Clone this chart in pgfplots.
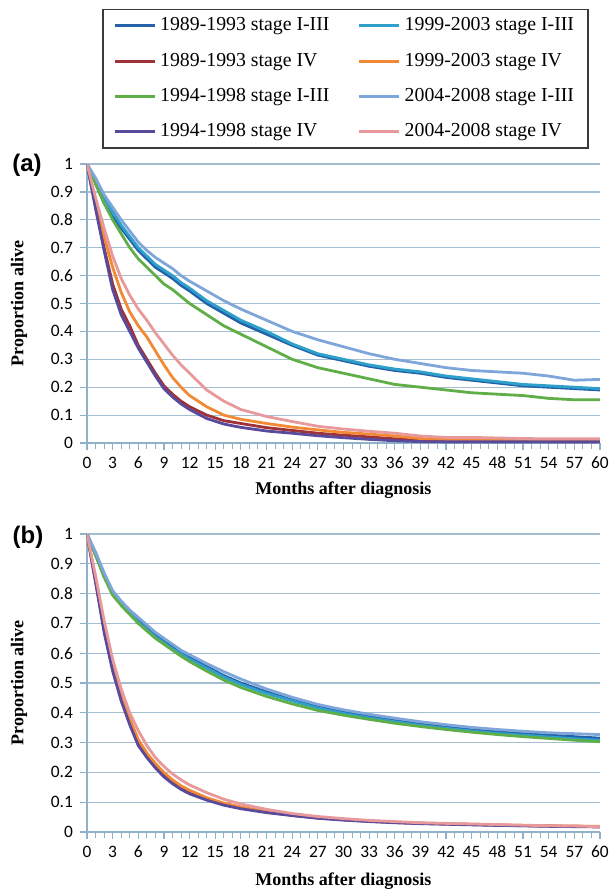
\documentclass[border=0pt]{standalone}
\usepackage{fontspec}
\setmainfont{Liberation Serif}
\newfontfamily\calfont{Carlito}
\newfontfamily\arialfont{Liberation Sans}
\usepackage{pgfplots}
\usepackage{pgfplotstable}
\pgfplotsset{compat=1.18}
\definecolor{cA}{HTML}{2361A9}
\definecolor{cB}{HTML}{9E3237}
\definecolor{cC}{HTML}{5FAE48}
\definecolor{cD}{HTML}{5A4A9C}
\definecolor{cE}{HTML}{2F9FCB}
\definecolor{cF}{HTML}{F28A35}
\definecolor{cG}{HTML}{7EA6DA}
\definecolor{cH}{HTML}{E8999B}
\definecolor{gridc}{HTML}{A3BED0}
\definecolor{axisc}{HTML}{8FB2C8}
\definecolor{legc}{HTML}{3A3A3A}

% columns: a=1989-93 I-III, b=1989-93 IV, c=1994-98 I-III, d=1994-98 IV,
%          e=1999-03 I-III, f=1999-03 IV, g=2004-08 I-III, h=2004-08 IV
\pgfplotstableread{
m  a     b     c     d     e     f     g     h
0  1     1     1     1     1     1     1     1
1  0.93  0.85  0.93  0.84  0.94  0.87  0.95  0.88
2  0.86  0.70  0.86  0.69  0.88  0.74  0.89  0.77
3  0.81  0.57  0.80  0.55  0.83  0.63  0.845 0.67
4  0.77  0.48  0.75  0.46  0.78  0.54  0.80  0.59
5  0.73  0.42  0.70  0.40  0.74  0.47  0.76  0.53
6  0.69  0.35  0.66  0.34  0.70  0.42  0.72  0.48
7  0.66  0.30  0.63  0.29  0.67  0.38  0.69  0.44
8  0.63  0.25  0.60  0.24  0.64  0.33  0.665 0.395
9  0.61  0.205 0.57  0.195 0.62  0.28  0.645 0.355
10 0.59  0.175 0.55  0.165 0.60  0.235 0.625 0.315
11 0.565 0.15  0.525 0.14  0.575 0.20  0.60  0.28
12 0.545 0.13  0.50  0.12  0.555 0.17  0.58  0.25
14 0.50  0.10  0.46  0.088 0.51  0.13  0.545 0.19
16 0.465 0.08  0.42  0.068 0.475 0.10  0.51  0.15
18 0.43  0.07  0.39  0.056 0.44  0.085 0.48  0.12
21 0.39  0.055 0.345 0.043 0.40  0.07  0.44  0.095
24 0.35  0.045 0.30  0.035 0.355 0.057 0.40  0.077
27 0.315 0.035 0.27  0.026 0.32  0.047 0.37  0.06
30 0.295 0.028 0.25  0.019 0.30  0.038 0.345 0.05
33 0.275 0.022 0.23  0.013 0.28  0.032 0.32  0.042
36 0.26  0.015 0.21  0.008 0.265 0.025 0.30  0.035
39 0.25  0.01  0.20  0.005 0.255 0.016 0.285 0.025
42 0.235 0.008 0.19  0.004 0.24  0.013 0.27  0.02
45 0.225 0.007 0.18  0.004 0.23  0.012 0.26  0.02
48 0.215 0.006 0.175 0.004 0.22  0.011 0.255 0.018
51 0.205 0.006 0.17  0.004 0.21  0.01  0.25  0.016
54 0.20  0.005 0.16  0.004 0.205 0.01  0.24  0.015
57 0.195 0.005 0.155 0.004 0.20  0.01  0.225 0.015
60 0.19  0.005 0.155 0.004 0.195 0.01  0.228 0.015
}\panela

\pgfplotstableread{
m  a     b     c     d     e     f     g     h
0  1     1     1     1     1     1     1     1
1  0.93  0.84  0.93  0.84  0.93  0.85  0.94  0.86
2  0.86  0.68  0.855 0.67  0.86  0.69  0.87  0.71
3  0.80  0.55  0.795 0.54  0.80  0.56  0.81  0.58
4  0.765 0.45  0.76  0.44  0.765 0.46  0.775 0.48
5  0.735 0.37  0.73  0.36  0.735 0.38  0.745 0.40
6  0.71  0.30  0.70  0.29  0.705 0.31  0.72  0.34
7  0.685 0.26  0.675 0.25  0.68  0.265 0.695 0.29
8  0.66  0.225 0.65  0.215 0.655 0.23  0.67  0.25
9  0.64  0.195 0.63  0.185 0.635 0.20  0.65  0.22
10 0.62  0.17  0.61  0.162 0.615 0.175 0.63  0.195
11 0.60  0.15  0.59  0.143 0.598 0.155 0.61  0.175
12 0.585 0.135 0.572 0.128 0.58  0.14  0.595 0.158
14 0.555 0.112 0.54  0.107 0.55  0.115 0.565 0.132
16 0.525 0.094 0.51  0.09  0.52  0.097 0.538 0.11
18 0.50  0.081 0.485 0.078 0.495 0.084 0.513 0.094
21 0.47  0.067 0.455 0.065 0.465 0.069 0.48  0.076
24 0.443 0.056 0.43  0.055 0.44  0.058 0.452 0.062
27 0.42  0.047 0.408 0.046 0.416 0.049 0.428 0.052
30 0.402 0.041 0.392 0.04  0.398 0.042 0.41  0.045
33 0.387 0.036 0.378 0.035 0.383 0.037 0.395 0.039
36 0.374 0.032 0.365 0.031 0.37  0.033 0.382 0.035
39 0.362 0.029 0.354 0.028 0.358 0.03  0.37  0.031
42 0.352 0.027 0.344 0.026 0.348 0.028 0.36  0.029
45 0.343 0.025 0.335 0.024 0.339 0.026 0.351 0.027
48 0.336 0.023 0.327 0.022 0.331 0.024 0.344 0.025
51 0.33  0.021 0.32  0.021 0.325 0.022 0.338 0.023
54 0.325 0.02  0.314 0.019 0.319 0.021 0.333 0.021
57 0.32  0.019 0.308 0.018 0.313 0.02  0.33  0.02
60 0.315 0.018 0.303 0.017 0.308 0.019 0.327 0.018
}\panelb

\pgfplotsset{
  survival/.style={
    scale only axis, width=256.5pt,
    xmin=0, xmax=60, ymin=0, ymax=1,
    axis x line*=bottom, axis y line*=left,
    axis line style={draw=axisc, line width=0.7pt},
    xtick={0,3,...,60}, minor xtick={0,1,...,60},
    ytick={0,0.1,...,1},
    ymajorgrids, grid style={draw=gridc, line width=0.6pt},
    tick align=outside, major tick length=3.5pt, minor tick length=3pt,
    tick style={draw=axisc, line width=0.6pt},
    minor tick style={draw=axisc, line width=0.5pt},
    tick label style={font=\calfont\fontsize{8.7}{9}\selectfont},
    /pgf/number format/assume math mode=true,
    xlabel={Months after diagnosis}, ylabel={Proportion alive},
    label style={font=\bfseries\fontsize{9}{10}\selectfont},
    ylabel style={at={(axis description cs:-0.1326,0.5)}, anchor=center},
    every axis plot/.append style={line width=1.4pt, no markers, line join=round},
    clip mode=individual,
    legend cell align=left,
    legend image code/.code={\draw[##1, line width=1.6pt] (0pt,0pt) -- (20pt,0pt);},
  }
}

\begin{document}
\begin{tikzpicture}
\useasboundingbox (-43.5pt,-223.5pt) rectangle (261.5pt,221.5pt);
\begin{axis}[survival, height=139.5pt, at={(0pt,0pt)}, anchor=south west,
  xlabel style={at={(axis description cs:0.5,-0.168)}, anchor=center},
  legend columns=2,
  legend style={at={(0.504,1.556)}, anchor=north, draw=legc, line width=0.8pt,
    fill=white, font=\fontsize{9.9}{10}\selectfont,
    inner xsep=5pt, inner ysep=2pt, row sep=5.6pt,
    /tikz/every even column/.append style={column sep=12pt}},
]
\addplot[cA] table[x=m, y=a] {\panela};
\addplot[cE] table[x=m, y=e] {\panela};
\addplot[cB] table[x=m, y=b] {\panela};
\addplot[cF] table[x=m, y=f] {\panela};
\addplot[cC] table[x=m, y=c] {\panela};
\addplot[cG] table[x=m, y=g] {\panela};
\addplot[cD] table[x=m, y=d] {\panela};
\addplot[cH] table[x=m, y=h] {\panela};
\legend{1989-1993 stage I-III, 1999-2003 stage I-III,
  1989-1993 stage IV, 1999-2003 stage IV,
  1994-1998 stage I-III, 2004-2008 stage I-III,
  1994-1998 stage IV, 2004-2008 stage IV}
\node[font=\arialfont\bfseries\fontsize{12}{12}\selectfont] at (rel axis cs:-0.117,0.995) {(a)};
\end{axis}
\begin{axis}[survival, height=149pt, at={(0pt,-194.5pt)}, anchor=south west,
  xlabel style={at={(axis description cs:0.5,-0.164)}, anchor=center},
]
\addplot[cA] table[x=m, y=a] {\panelb};
\addplot[cE] table[x=m, y=e] {\panelb};
\addplot[cB] table[x=m, y=b] {\panelb};
\addplot[cF] table[x=m, y=f] {\panelb};
\addplot[cC] table[x=m, y=c] {\panelb};
\addplot[cG] table[x=m, y=g] {\panelb};
\addplot[cD] table[x=m, y=d] {\panelb};
\addplot[cH] table[x=m, y=h] {\panelb};
\node[font=\arialfont\bfseries\fontsize{12}{12}\selectfont] at (rel axis cs:-0.115,0.99) {(b)};
\end{axis}
\end{tikzpicture}
\end{document}
